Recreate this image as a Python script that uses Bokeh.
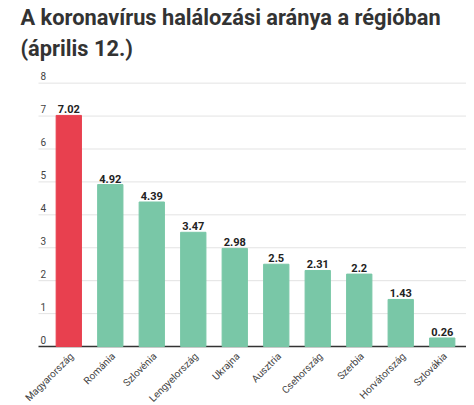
import math
from bokeh.plotting import figure
from bokeh.models import ColumnDataSource, Title
from bokeh.core.properties import value
from bokeh.embed import file_html
from bokeh.resources import INLINE

countries = ["Magyarország", "Románia", "Szlovénia", "Lengyelország", "Ukrajna",
             "Ausztria", "Csehország", "Szerbia", "Horvátország", "Szlovákia"]
rates = [7.02, 4.92, 4.39, 3.47, 2.98, 2.5, 2.31, 2.2, 1.43, 0.26]
y_ticks = [0, 1, 2, 3, 4, 5, 6, 7, 8]
title_line1 = "A koronavírus halálozási aránya a régióban"
title_line2 = "(április 12.)"
highlight = "Magyarország"

RED = "#e8404f"
GREEN = "#79c7a7"
FONT = "Roboto"

xs = list(range(len(countries)))
colors = [RED if c == highlight else GREEN for c in countries]
source = ColumnDataSource(dict(x=xs, rate=rates, color=colors, name=countries,
                               zero=[0] * len(xs),
                               label=[str(r) for r in rates]))

x_start, x_end = -1.646, 9.585
grid_x0 = -0.73
p = figure(width=466, height=405, output_backend="svg", toolbar_location=None,
           x_range=(x_start, x_end), y_range=(-1.791, 8.627),
           min_border_left=0, min_border_right=0, min_border_bottom=0,
           min_border_top=0)
p.outline_line_color = None
p.background_fill_color = "white"
p.axis.visible = False
p.grid.visible = False

# grid lines and baseline
gsrc = ColumnDataSource(dict(x0=[grid_x0] * (len(y_ticks) - 1),
                             x1=[x_end] * (len(y_ticks) - 1), y=y_ticks[1:]))
p.segment(x0="x0", x1="x1", y0="y", y1="y", source=gsrc,
          line_color="#e3e3e3", line_width=1)
p.segment(x0=[grid_x0], x1=[x_end], y0=[y_ticks[0]], y1=[y_ticks[0]],
          line_color="#333333", line_width=1.5)

p.vbar(x="x", top="rate", width=0.61, color="color", source=source)
p.text(x="x", y="rate", text="label", source=source, text_align="center",
       text_baseline="bottom", y_offset=-2, text_font=value(FONT),
       text_font_style="bold", text_font_size="11px", text_color="#222222")

# category labels, rotated
p.text(x="x", y="zero", text="name", source=source, angle=math.pi / 4,
       text_align="right", text_baseline="middle", x_offset=3, y_offset=8,
       text_font=value(FONT), text_font_size="10px", text_color="#444444")

# y tick labels sitting above grid lines
ysrc = ColumnDataSource(dict(x=[grid_x0 + 0.05] * len(y_ticks), y=y_ticks,
                             t=[str(v) for v in y_ticks]))
p.text(x="x", y="y", text="t", source=ysrc, text_align="left",
       text_baseline="bottom", y_offset=-3, text_font=value(FONT),
       text_font_size="10px", text_color="#444444")

p.title = None
p.add_layout(Title(text=title_line2, align="left", offset=20, text_font=FONT,
                   text_font_style="bold", text_font_size="21.8px", standoff=4,
                   text_color="#333333"), "above")
p.add_layout(Title(text=title_line1, align="left", offset=20, text_font=FONT,
                   text_font_style="bold", text_font_size="21.8px", standoff=4,
                   text_color="#333333"), "above")

open("out.html", "w").write(file_html(p, INLINE))
